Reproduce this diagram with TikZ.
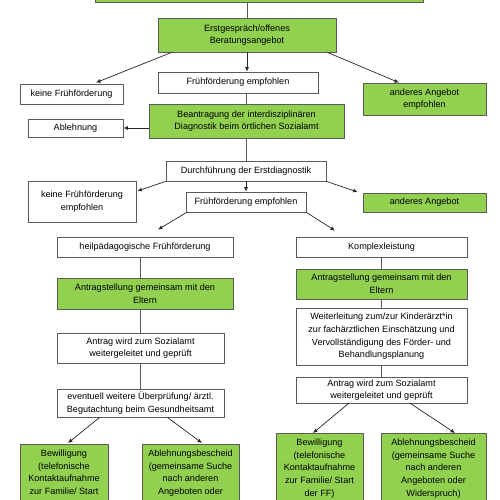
\documentclass[tikz,border=0pt]{standalone}
\usepackage{fontspec}
\setmainfont{Liberation Sans}
\usetikzlibrary{arrows.meta}
\definecolor{boxgreen}{HTML}{92D050}
\definecolor{edgegray}{HTML}{5A5A5A}
\begin{document}
\begin{tikzpicture}[x=1pt,y=-1pt,
  bx/.style={draw=edgegray,line width=0.8pt,rectangle,inner sep=0pt,align=center,
    font=\fontsize{9.1pt}{12.7pt}\selectfont},
  gbx/.style={bx,fill=boxgreen},
  wbx/.style={bx,fill=white},
  ln/.style={draw=edgegray,line width=0.8pt},
  ar/.style={draw=black!85,line width=0.7pt,-{Latex[length=4.5pt,width=4pt]}}]
\clip (0,0) rectangle (500,500);
\fill[white] (0,0) rectangle (500,500);
% nodes
\node[gbx,minimum width=328pt,minimum height=23pt] (top) at (259,-9) {};
\node[gbx,minimum width=178pt,minimum height=34pt] (erst) at (247,35) {Erstgespräch/offenes\\Beratungsangebot};
\node[wbx,minimum width=160pt,minimum height=21pt] (ffe1) at (238,82.5) {Frühförderung empfohlen};
\node[wbx,minimum width=103pt,minimum height=20pt] (keine1) at (71.5,94) {keine Frühförderung};
\node[gbx,minimum width=123pt,minimum height=32pt] (anderes1) at (424.5,99) {anderes Angebot\\empfohlen};
\node[gbx,minimum width=195pt,minimum height=34pt] (beantr) at (246.5,121) {Beantragung der interdisziplinären\\Diagnostik beim örtlichen Sozialamt};
\node[wbx,minimum width=95pt,minimum height=18pt] (ablehn) at (75.5,128) {Ablehnung};
\node[wbx,minimum width=160pt,minimum height=20pt] (durch) at (246,171) {Durchführung der Erstdiagnostik};
\node[wbx,minimum width=120pt,minimum height=20pt] (ffe2) at (246,202) {Frühförderung empfohlen};
\node[wbx,minimum width=108pt,minimum height=41pt] (keine2) at (82,201.5) {keine Frühförderung\\empfohlen};
\node[gbx,minimum width=123pt,minimum height=19pt] (anderes2) at (424.5,202.5) {anderes Angebot};
% left column
\node[wbx,minimum width=176pt,minimum height=20pt] (heil) at (145,247) {heilpädagogische Frühförderung};
\node[gbx,minimum width=176pt,minimum height=31pt] (antrL) at (145,293.5) {Antragstellung gemeinsam mit den\\Eltern};
\node[wbx,minimum width=167pt,minimum height=30pt] (antragL) at (140.5,348) {Antrag wird zum Sozialamt\\weitergeleitet und geprüft};
\node[wbx,minimum width=167pt,minimum height=28pt] (eventL) at (140.5,403) {eventuell weitere Überprüfung/ ärztl.\\Begutachtung beim Gesundheitsamt};
\node[gbx,minimum width=88pt,minimum height=70pt,anchor=north] (bewL) at (64,444) {Bewilligung\\(telefonische\\Kontaktaufnahme\\zur Familie/ Start\\der FF)};
\node[gbx,minimum width=97pt,minimum height=70pt,anchor=north] (ablL) at (190.5,444) {Ablehnungsbescheid\\(gemeinsame Suche\\nach anderen\\Angeboten oder\\Widerspruch)};
% right column
\node[wbx,minimum width=171pt,minimum height=20pt] (komplex) at (381.5,247) {Komplexleistung};
\node[gbx,minimum width=171pt,minimum height=30pt] (antrR) at (381.5,284) {Antragstellung gemeinsam mit den\\Eltern};
\node[wbx,minimum width=171pt,minimum height=57pt] (weiter) at (381.5,336.5) {Weiterleitung zum/zur Kinderärzt*in\\zur fachärztlichen Einschätzung und\\Vervollständigung des Förder- und\\Behandlungsplanung};
\node[wbx,minimum width=171pt,minimum height=26pt] (antragR) at (381.5,390) {Antrag wird zum Sozialamt\\weitergeleitet und geprüft};
\node[gbx,minimum width=87pt,minimum height=70pt,anchor=north] (bewR) at (319.5,433) {Bewilligung\\(telefonische\\Kontaktaufnahme\\zur Familie/ Start\\der FF)};
\node[gbx,minimum width=105pt,minimum height=70pt,anchor=north] (ablR) at (433.5,433) {Ablehnungsbescheid\\(gemeinsame Suche\\nach anderen\\Angeboten oder\\Widerspruch)};
% connectors
\draw[ln] (top.south -| erst.north) -- (erst.north);
\draw[ar] (erst.south) -- (erst.south |- ffe1.north);
\draw[ar] ([xshift=14pt]erst.south west) -- ([xshift=24.5pt,yshift=1pt]keine1.north);
\draw[ar] ([xshift=-9pt]erst.south east) -- ([xshift=-25.5pt]anderes1.north);
\draw[ln] (beantr.north |- ffe1.south) -- (beantr.north);
\draw[ar,line width=1pt] (ablehn.east -| beantr.west) -- (ablehn.east);
\draw[ln] (beantr.south) -- (beantr.south |- durch.north);
\draw[ar] (durch.south) -- (durch.south |- ffe2.north);
\draw[ar] (durch.south west) -- ([xshift=1pt,yshift=10.5pt]keine2.east);
\draw[ar] (durch.south east) -- ([xshift=-5pt,yshift=10.5pt]anderes2.west);
\draw[ar] ([xshift=1pt]ffe2.south west) -- ([xshift=13pt,yshift=7pt]heil.north);
\draw[ar] (ffe2.south east) -- ([xshift=-46.5pt,yshift=6pt]komplex.north);
\draw[ln] (heil.south -| antragL.north) -- (antrL.north -| antragL.north);
\draw[ln] (antrL.south -| antragL.north) -- (antragL.north);
\draw[ln] (antragL.south) -- (eventL.north);
\draw[ar] ([xshift=43pt]eventL.south west) -- ([xshift=4pt,yshift=1pt]bewL.north);
\draw[ar] ([xshift=-57pt]eventL.south east) -- ([xshift=11.5pt,yshift=1pt]ablL.north);
\draw[ln] (komplex.south) -- (antrR.north);
\draw[ln] (antrR.south) -- (weiter.north);
\draw[ln] (weiter.south) -- (antragR.north);
\draw[ar] ([xshift=53pt]antragR.south west) -- ([xshift=-6.5pt]bewR.north);
\draw[ar] ([xshift=-57pt]antragR.south east) -- ([xshift=21.5pt]ablR.north);
\end{tikzpicture}
\end{document}
